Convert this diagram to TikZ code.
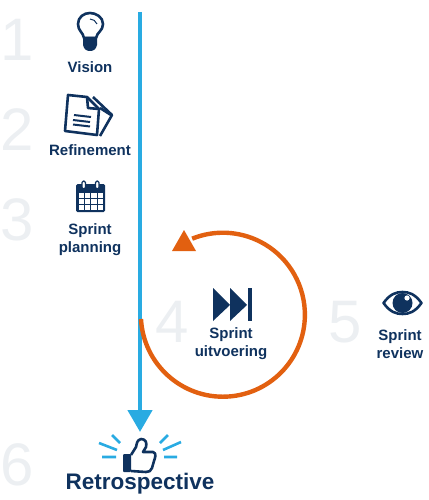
\documentclass[tikz,border=0pt]{standalone}
\usepackage{fontspec}
\setmainfont{Liberation Sans}
\usetikzlibrary{arrows.meta, positioning}
\definecolor{scrumNavy}{RGB}{15,50,94}
\definecolor{scrumBlue}{RGB}{41,171,226}
\definecolor{scrumOrange}{RGB}{226,96,16}
\definecolor{digitGray}{RGB}{236,239,242}

\begin{document}
\begin{tikzpicture}[x=1pt, y=-1pt,
digit/.style={inner sep=0pt, text=digitGray, font=\fontsize{60}{60}\selectfont},
steplabel/.style={inner sep=0pt, align=center, text=scrumNavy,
font=\fontsize{15}{18}\selectfont\bfseries},
icon/.style={draw=scrumNavy, line width=2.6pt, line join=round},
iconfill/.style={fill=scrumNavy},
ray/.style={draw=scrumBlue, line width=2.6pt},
arrow/.style={-{Triangle[length=22pt, width=24pt]}, line width=4.6pt, color=scrumBlue},
loopline/.style={line width=4.4pt, color=scrumOrange}]

\useasboundingbox (0,0) rectangle (428,500);

\node[digit] (one)   at (17,40)  {1};
\node[digit] (two)   at (17,130) {2};
\node[digit] (three) at (17,220) {3};
\node[digit] (four)  at (172,322) {4};
\node[digit] (five)  at (345,322) {5};
\node[digit] (six)   at (17,465) {6};

\coordinate (linetop) at (140,12);
\coordinate (linetip) at (140,432);
\draw[arrow] (linetop) -- (linetip);

\coordinate (loopstart) at (141,319);
\draw[loopline] (loopstart) arc[start angle=177, end angle=-112, radius=82];
\fill[scrumOrange] (184,230) -- (172,251) -- (196,251) -- cycle;

\draw[icon] (84,38) .. controls (83,32) and (78,31) .. (78,24)
  .. controls (78,17) and (84,13) .. (90,13)
  .. controls (96,13) and (103,17) .. (103,24)
  .. controls (103,31) and (97,32) .. (96,38) -- cycle;
\draw[icon, line width=1pt] (90,19) .. controls (93,19) and (96,21) .. (97,24);
\fill[iconfill] (83,37) -- (97,37) -- (97,45) .. controls (96,49) and (94,51) .. (90,51)
  .. controls (86,51) and (84,49) .. (83,45) -- cycle;
\node[steplabel] (vision) at (90,67) {Vision};

\draw[icon] (93,97) -- (112,115) -- (100,136);
\draw[icon] (100,108) -- (111,115);
\draw[icon, fill=white] (68,95) -- (87,97) -- (99,109) -- (97,135) -- (65,131) -- cycle;
\draw[icon] (87,97) -- (88,108) -- (99,109);
\draw[icon, line width=2pt] (74,115) -- (91,117) (73,120) -- (90,122) (73,124.5) -- (90,126.5);
\node[steplabel] (refinement) at (90,150) {Refinement};

\fill[iconfill, rounded corners=1.5pt] (76,184) rectangle (105,212);
\foreach \col in {0,1,2,3} {
  \foreach \row in {0,1,2} {
    \fill[white] (78.5+6.4*\col,193+6*\row) rectangle ++(5.2,4.8);
  }
}
\draw[icon, fill=white, line width=1.1pt, rounded corners=1.5pt] (82,181) rectangle (85.5,189);
\draw[icon, fill=white, line width=1.1pt, rounded corners=1.5pt] (95.5,181) rectangle (99,189);
\node[steplabel] (planning) at (90,240) {Sprint\\planning};

\fill[iconfill] (213,288) -- (230,305) -- (213,321) -- cycle;
\fill[iconfill] (230,288) -- (247,305) -- (230,321) -- cycle;
\fill[iconfill] (248,288) rectangle (252,321);
\node[steplabel] (uitvoering) at (231,344) {Sprint\\uitvoering};

\draw[icon] (383.5,303) .. controls (390,294) and (396,292) .. (402.5,292)
  .. controls (409,292) and (415,294) .. (421.5,303)
  .. controls (415,312) and (409,314) .. (402.5,314)
  .. controls (396,314) and (390,312) .. (383.5,303) -- cycle;
\fill[iconfill] (402.5,303) circle[radius=10];
\fill[white] (407,298) circle[radius=2.6];
\node[steplabel] (review) at (400,344) {Sprint\\review};

\draw[ray] (112,435) -- (120,443) (99,443) -- (117,450) (102,457) -- (116,457);
\draw[ray] (160,443) -- (168,435) (163,450) -- (181,442) (164,457) -- (177,457);
\fill[iconfill, rounded corners=1pt] (123,454) rectangle (131,472);
\draw[icon] (131,455) -- (136,447) .. controls (137,443) and (137,440) .. (141,439)
  .. controls (146,439) and (147,443) .. (146,447) -- (143,452) -- (153,452)
  .. controls (157,453) and (155,458) .. (154,461) -- (152,468)
  .. controls (151,471) and (149,472) .. (146,472) -- (131,471);
\node[steplabel, font=\fontsize{22.5}{24}\selectfont\bfseries] (retro) at (140,484) {Retrospective};
\end{tikzpicture}
\end{document}
